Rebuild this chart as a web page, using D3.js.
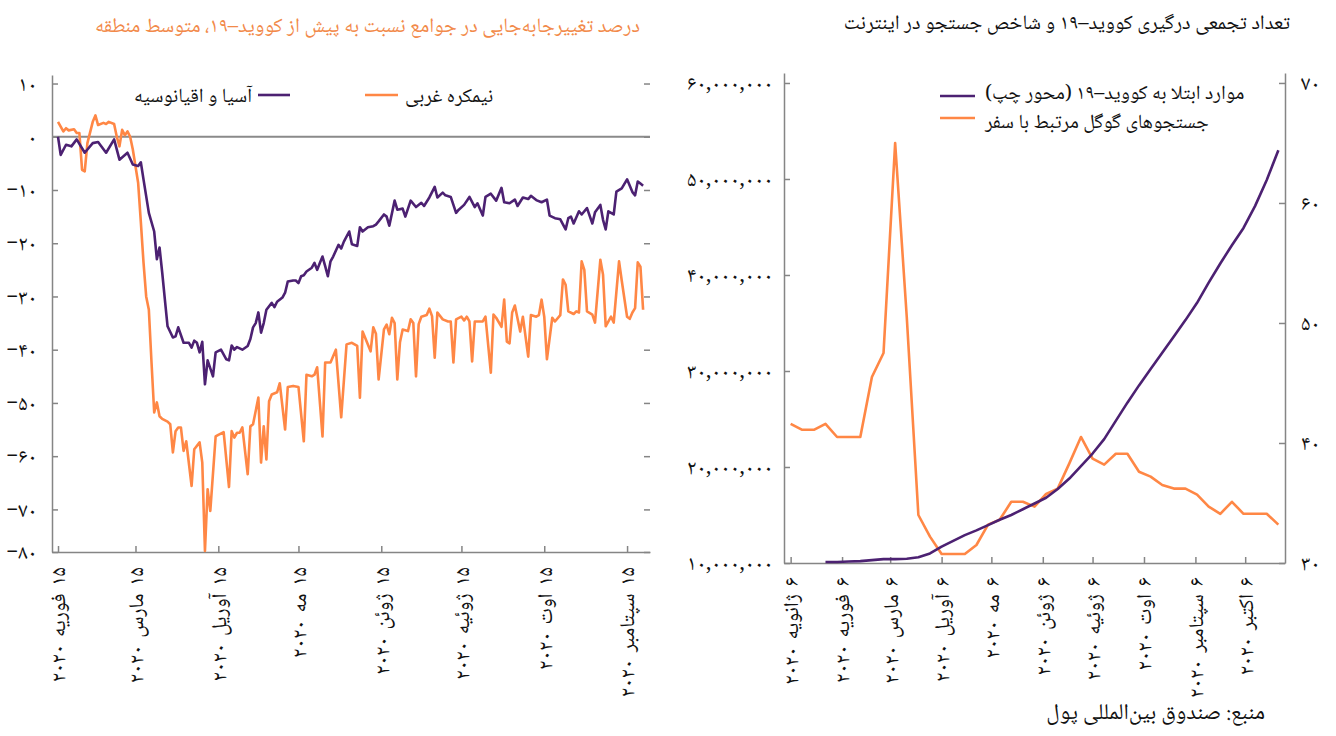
<!DOCTYPE html>
<html><head><meta charset="utf-8">
<script src="https://cdn.jsdelivr.net/npm/d3@7"></script>
<style>
body{margin:0;background:#fff;}
svg{display:block;font-family:"Noto Naskh Arabic","Noto Sans Arabic","DejaVu Sans",sans-serif;}
</style></head><body>
<svg id="c" width="1336" height="736"></svg>
<script>
// ---------------- Left panel: mobility, % change vs pre-COVID (daily) ----------------
const mobilityStart = "2020-02-15";               // day 0
const asiaDays = [0,1,3,5,7,10,13,15,18,21,23,26,28,30,31,32,34,36,37,38,39,40,41,43,44,45,47,49,50,51,52,53,54,55,56,58,59,61,63,64,65,66,67,69,71,72,73,74,75,76,77,78,80,81,82,84,85,86,88,89,90,91,92,93,95,96,97,98,99,100,101,102,103,105,106,107,109,110,112,113,114,116,117,118,119,120,122,123,124,126,127,129,130,131,132,134,136,137,139,141,142,144,145,147,149,150,152,154,156,157,159,160,162,164,166,167,169,171,172,174,176,177,179,181,183,184,186,188,190,191,192,193,195,196,198,200,201,203,204,205,206,208,209,211,213,215,216,217,218,219];
const asiaValues = [0,-3.4,-1.5,-1.8,-0.5,-3,-1.2,-1,-3,-0.5,-4.3,-3,-5.2,-5.5,-4.8,-8,-14.3,-17.8,-23,-20.8,-25.5,-30.6,-35.6,-37.7,-37.5,-35.8,-38.7,-38.7,-39.6,-38.3,-38.7,-40.5,-38.5,-46.5,-42,-45,-40.5,-40,-41.8,-42,-39.2,-40,-39.5,-40,-39.3,-38,-35.8,-35,-33,-36.8,-35,-32.5,-31.2,-32,-31,-30.2,-29.3,-27.2,-27,-27,-27.5,-26.2,-26,-25.3,-24.6,-23.7,-25,-23.7,-22.5,-24.3,-26.2,-23.4,-22.5,-20.3,-21,-19.7,-17.8,-20.2,-20.5,-17,-17.8,-17,-16.9,-16.8,-16.5,-15.9,-14.6,-15,-16.7,-12,-13.7,-13.5,-15,-13.5,-12,-13.2,-12.4,-13,-11.4,-9.4,-11.4,-10.5,-11,-11.3,-14.3,-13.7,-12.8,-11.3,-13.2,-12.5,-14.8,-11.3,-10.7,-12,-9.6,-12.3,-12.5,-11.8,-13,-11.4,-11.7,-11.1,-11.9,-12.3,-11.8,-14.8,-15.3,-15.5,-17.4,-15.3,-15,-16.3,-14,-14.6,-13.4,-16.3,-14.2,-12.8,-15.6,-17.4,-14,-14.6,-10.3,-9.7,-8,-10.4,-11,-8.4,-8.8,-9.2];
const westDays = [0,2,3,4,6,7,8,9,10,11,13,14,15,17,18,19,21,22,23,24,25,26,27,28,30,31,32,33,34,35,36,37,38,39,41,42,43,44,45,46,47,48,50,51,53,54,55,56,57,59,60,62,64,65,66,67,68,69,71,72,73,75,76,77,78,79,80,82,83,85,86,88,90,92,93,95,96,97,99,100,102,104,106,108,110,112,113,114,115,117,118,119,120,122,123,124,125,126,127,128,129,131,132,133,134,135,136,138,139,140,141,142,144,146,147,148,149,151,152,153,154,155,156,158,159,160,162,163,164,166,167,168,169,170,171,173,174,176,177,179,180,181,182,183,185,186,188,189,190,191,193,194,195,196,197,198,200,201,203,204,205,207,208,210,211,213,214,215,216,217,218,219];
const westValues = [2.8,1,1.6,1.2,1.4,0.7,0.7,-6.2,-6.5,-1.2,2.8,4,2.2,2.6,2.4,2.8,2.4,0,-1.8,1.3,0.3,1,0,-2.4,-8.7,-16,-23.6,-30,-32.5,-42.4,-51.8,-49.9,-52.5,-53,-53.5,-54,-59.3,-55.3,-54.6,-54.6,-59,-57.2,-65.6,-58.7,-57.4,-61.2,-77.8,-66.2,-70.3,-56.3,-56,-55.5,-65.8,-55.3,-56.5,-55.6,-55.6,-54.6,-63.4,-54.4,-54,-49,-61.2,-54.4,-60.6,-49.7,-48.4,-48,-46.3,-55,-47,-46.8,-47,-57.2,-44.7,-45,-44.7,-43.3,-56.3,-42.4,-42.4,-40,-52.7,-39,-38.7,-39.3,-49,-36.6,-37.8,-40.3,-35.8,-37,-45.6,-36.2,-35.3,-37.1,-34,-35,-45.6,-38.6,-36.2,-36.5,-34.3,-35,-45,-35.2,-33.8,-33.5,-32.3,-33.7,-41.5,-33,-34.3,-34.7,-34.7,-42.4,-34.3,-33.8,-34.5,-33.8,-34.7,-42.2,-34.7,-34.7,-34.7,-33.8,-44.3,-33.4,-34,-35.7,-30.6,-38.5,-38.8,-33,-31.7,-36.6,-33.8,-41.3,-33.5,-33.8,-33.5,-30.6,-33.8,-41.8,-34,-34.7,-33.5,-26.8,-27.8,-32.8,-33.3,-32.8,-33,-23.4,-25,-32.8,-33.4,-34.9,-23.1,-25.9,-35.6,-33.8,-34.9,-23.4,-27,-33.8,-34.2,-33,-32.2,-23.6,-24.4,-32.5];
const leftYTicks = [10,0,-10,-20,-30,-40,-50,-60,-70,-80];
const leftYTickLabels = ["۱۰","۰","−۱۰","−۲۰","−۳۰","−۴۰","−۵۰","−۶۰","−۷۰","−۸۰"];
const leftXTicks = ["2020-02-15","2020-03-15","2020-04-15","2020-05-15","2020-06-15","2020-07-15","2020-08-15","2020-09-15"];
const leftXTickLabels = ["۱۵ فوریه ۲۰۲۰","۱۵ مارس ۲۰۲۰","۱۵ آوریل ۲۰۲۰","۱۵ مه ۲۰۲۰","۱۵ ژوئن ۲۰۲۰","۱۵ ژوئیه ۲۰۲۰","۱۵ اوت ۲۰۲۰","۱۵ سپتامبر ۲۰۲۰"];
const leftTitle = "درصد تغییرجابه‌جایی در جوامع نسبت به پیش از کووید–۱۹، متوسط منطقه";
const leftLegend = ["آسیا و اقیانوسیه","نیمکره غربی"];

// ---------------- Right panel: cumulative cases & travel search index (weekly) ----------------
const weekDates = ["2020-01-06","2020-01-13","2020-01-20","2020-01-27","2020-02-03","2020-02-10","2020-02-17","2020-02-24","2020-03-02","2020-03-09","2020-03-16","2020-03-23","2020-03-30","2020-04-06","2020-04-13","2020-04-20","2020-04-27","2020-05-04","2020-05-11","2020-05-18","2020-05-25","2020-06-01","2020-06-08","2020-06-15","2020-06-22","2020-06-29","2020-07-06","2020-07-13","2020-07-20","2020-07-27","2020-08-03","2020-08-10","2020-08-17","2020-08-24","2020-08-31","2020-09-07","2020-09-14","2020-09-21","2020-09-28","2020-10-05","2020-10-12","2020-10-19","2020-10-26"];
const casesValues = [null,null,null,10100000,10100000,10150000,10200000,10300000,10400000,10400000,10450000,10600000,11000000,11700000,12300000,12900000,13400000,13950000,14500000,15000000,15600000,16200000,16800000,17700000,18800000,20100000,21400000,22900000,24800000,26700000,28500000,30200000,31900000,33600000,35300000,37100000,39200000,41200000,43100000,44900000,47200000,49900000,53000000];
const searchValues = [41.6,41.1,41.1,41.6,40.5,40.5,40.5,45.5,47.5,65,50.5,34,32.2,30.75,30.75,30.75,31.5,33.2,33.6,35.1,35.1,34.7,35.75,36.2,38.3,40.5,38.7,38.2,39.1,39.1,37.6,37.2,36.5,36.2,36.2,35.7,34.7,34.1,35.1,34.1,34.1,34.1,33.2];
const rightXTicks = ["2020-01-06","2020-02-06","2020-03-06","2020-04-06","2020-05-06","2020-06-06","2020-07-06","2020-08-06","2020-09-06","2020-10-06"];
const rightXTickLabels = ["۶ ژانویه ۲۰۲۰","۶ فوریه ۲۰۲۰","۶ مارس ۲۰۲۰","۶ آوریل ۲۰۲۰","۶ مه ۲۰۲۰","۶ ژوئن ۲۰۲۰","۶ ژوئیه ۲۰۲۰","۶ اوت ۲۰۲۰","۶ سپتامبر ۲۰۲۰","۶ اکتبر ۲۰۲۰"];
const rightYLTicks = [10000000,20000000,30000000,40000000,50000000,60000000];
const rightYLTickLabels = ["۱۰,۰۰۰,۰۰۰","۲۰,۰۰۰,۰۰۰","۳۰,۰۰۰,۰۰۰","۴۰,۰۰۰,۰۰۰","۵۰,۰۰۰,۰۰۰","۶۰,۰۰۰,۰۰۰"];
const rightYRTicks = [30,40,50,60,70];
const rightYRTickLabels = ["۳۰","۴۰","۵۰","۶۰","۷۰"];
const rightTitle = "تعداد تجمعی درگیری کووید–۱۹ و شاخص جستجو در اینترنت";
const rightLegend = ["موارد ابتلا به کووید–۱۹ (محور چپ)","جستجوهای گوگل مرتبط با سفر"];
const sourceText = "منبع: صندوق بین‌المللی پول";

// ---------------- Drawing ----------------
const purple = "#4c2172", orange = "#ff8745", titleOrange = "#f28a4a", axisCol = "#858585";
const svg = d3.select("#c");
const parse = d3.timeParse("%Y-%m-%d");
const fsTick = 21, fsX = 21, fsTitle = 20.5, fsLegend = 20, fsSource = 22.5;

function styleAxis(g){
  g.selectAll("path.domain").attr("stroke", axisCol).attr("stroke-width", 1.5);
  g.selectAll(".tick line").attr("stroke", axisCol).attr("stroke-width", 1.5);
  g.selectAll(".tick text").attr("font-size", fsTick).attr("fill", "#111");
  g.attr("font-family", null).attr("font-size", null);
}
function rotLabels(g, scale, ticks, labels, y0){
  g.selectAll("text.xl").data(ticks).join("text").attr("class","xl")
    .attr("transform", d => `translate(${scale(d)},${y0}) rotate(-90)`)
    .attr("direction","rtl").attr("text-anchor","start").attr("dy","0.35em")
    .attr("font-size", fsX).attr("word-spacing", 3).attr("fill","#111")
    .text((d,i) => labels[i]);
}

// ---- Left panel
const L = {x0:52, x1:650, y0:75, y1:552};
const mStart = parse(mobilityStart);
const xL = d3.scaleTime().domain([new Date(2020,1,12,18), new Date(2020,8,23,14)]).range([L.x0, L.x1]);
const yL = d3.scaleLinear().domain([11.6, -78]).range([L.y0, L.y1]);
const yLaxis = yL.copy().clamp(true);
const gL = svg.append("g");

gL.append("g").attr("transform",`translate(${L.x0},0)`)
  .call(d3.axisLeft(yLaxis).tickValues(leftYTicks).tickFormat((d,i)=>leftYTickLabels[i]).tickSizeInner(-6).tickSizeOuter(0).tickPadding(15))
  .call(styleAxis);
gL.append("g").attr("transform",`translate(${L.x1},0)`)
  .call(d3.axisRight(yLaxis).tickValues(leftYTicks).tickFormat("").tickSizeInner(-6).tickSizeOuter(0))
  .call(styleAxis).call(g => g.select("path.domain").remove());
gL.append("g").attr("transform",`translate(0,${L.y1})`)
  .call(d3.axisBottom(xL).tickValues(leftXTicks.map(parse)).tickSizeInner(-6).tickSizeOuter(0))
  .call(styleAxis).call(g => g.selectAll(".tick text").remove());
rotLabels(gL, xL, leftXTicks.map(parse), leftXTickLabels, L.y1 + 15);

gL.append("line").attr("x1", L.x0).attr("x2", L.x1).attr("y1", yL(0)).attr("y2", yL(0))
  .attr("stroke", "#8a8a8a").attr("stroke-width", 2);

const lineL = d3.line().x(d => xL(d.t)).y(d => yL(d.v));
const westPts = westDays.map((d,i) => ({t: d3.timeDay.offset(mStart, d), v: westValues[i]}));
const asiaPts = asiaDays.map((d,i) => ({t: d3.timeDay.offset(mStart, d), v: asiaValues[i]}));
gL.append("path").datum(westPts).attr("d", lineL).attr("fill","none").attr("stroke", orange).attr("stroke-width", 2.6).attr("stroke-linejoin","round");
gL.append("path").datum(asiaPts).attr("d", lineL).attr("fill","none").attr("stroke", purple).attr("stroke-width", 2.6).attr("stroke-linejoin","round");

svg.append("text").attr("x", 640).attr("y", 32).attr("direction","rtl").attr("text-anchor","start")
  .attr("font-size", fsTitle).attr("fill", titleOrange).text(leftTitle);
// legend
gL.append("line").attr("x1",258).attr("x2",290).attr("y1",95).attr("y2",95).attr("stroke",purple).attr("stroke-width",2.6);
gL.append("text").attr("x",252).attr("y",95).attr("dy","0.35em").attr("direction","rtl").attr("text-anchor","start").attr("font-size",fsLegend).attr("fill","#111").text(leftLegend[0]);
gL.append("line").attr("x1",365).attr("x2",398).attr("y1",95).attr("y2",95).attr("stroke",orange).attr("stroke-width",2.6);
gL.append("text").attr("x",405).attr("y",95).attr("dy","0.35em").attr("direction","rtl").attr("text-anchor","end").attr("font-size",fsLegend).attr("fill","#111").text(leftLegend[1]);

// ---- Right panel
const R = {x0:784, x1:1285, y0:73, y1:563};
const xR = d3.scaleTime().domain([new Date(2020,0,2), new Date(2020,9,30)]).range([R.x0, R.x1]);
const yRL = d3.scaleLinear().domain([10000000, 61040000]).range([R.y1, R.y0]);
const yRR = d3.scaleLinear().domain([30, 70.83]).range([R.y1, R.y0]);
const gR = svg.append("g");
gR.append("g").attr("transform",`translate(${R.x0},0)`)
  .call(d3.axisLeft(yRL).tickValues(rightYLTicks).tickFormat((d,i)=>rightYLTickLabels[i]).tickSizeInner(-6).tickSizeOuter(0).tickPadding(11))
  .call(styleAxis);
gR.append("g").attr("transform",`translate(${R.x1},0)`)
  .call(d3.axisRight(yRR).tickValues(rightYRTicks).tickFormat((d,i)=>rightYRTickLabels[i]).tickSizeInner(-6).tickSizeOuter(0).tickPadding(16))
  .call(styleAxis);
gR.append("g").attr("transform",`translate(0,${R.y1})`)
  .call(d3.axisBottom(xR).tickValues(rightXTicks.map(parse)).tickSizeInner(-6).tickSizeOuter(0))
  .call(styleAxis).call(g => g.selectAll(".tick text").remove());
rotLabels(gR, xR, rightXTicks.map(parse), rightXTickLabels, R.y1 + 14);

const weeks = weekDates.map(parse);
const casePts = weeks.map((t,i) => ({t, v: casesValues[i]}));
const searchPts = weeks.map((t,i) => ({t, v: searchValues[i]}));
gR.append("path").datum(searchPts).attr("d", d3.line().x(d=>xR(d.t)).y(d=>yRR(d.v)))
  .attr("fill","none").attr("stroke",orange).attr("stroke-width",2.6).attr("stroke-linejoin","round");
gR.append("path").datum(casePts).attr("d", d3.line().defined(d=>d.v!=null).x(d=>xR(d.t)).y(d=>yRL(d.v)))
  .attr("fill","none").attr("stroke",purple).attr("stroke-width",2.6).attr("stroke-linejoin","round");

svg.append("text").attr("x", 1290).attr("y", 29).attr("direction","rtl").attr("text-anchor","start")
  .attr("font-size", fsTitle).attr("fill", "#111").text(rightTitle);
gR.append("line").attr("x1",940).attr("x2",975).attr("y1",96).attr("y2",96).attr("stroke",purple).attr("stroke-width",2.6);
gR.append("text").attr("x",985).attr("y",92).attr("dy","0.35em").attr("direction","rtl").attr("text-anchor","end").attr("font-size",fsLegend).attr("fill","#111").text(rightLegend[0]);
gR.append("line").attr("x1",940).attr("x2",975).attr("y1",118).attr("y2",118).attr("stroke",orange).attr("stroke-width",2.6);
gR.append("text").attr("x",985).attr("y",121).attr("dy","0.35em").attr("direction","rtl").attr("text-anchor","end").attr("font-size",fsLegend).attr("fill","#111").text(rightLegend[1]);

svg.append("text").attr("x", 1265).attr("y", 719).attr("direction","rtl").attr("text-anchor","start")
  .attr("font-size", fsSource).attr("fill","#111").text(sourceText);
</script>
</body></html>
